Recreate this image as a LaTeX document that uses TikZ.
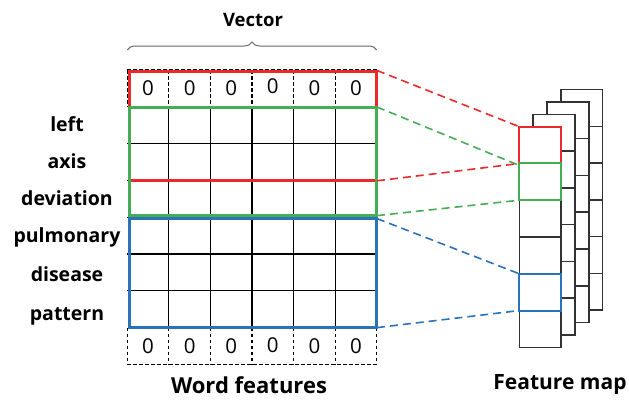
\documentclass[tikz,border=0pt]{standalone}
\usepackage{fontspec}
\setmainfont{Open Sans}
\usetikzlibrary{decorations.pathreplacing}
\definecolor{cred}{RGB}{232,42,42}
\definecolor{cgreen}{RGB}{70,172,86}
\definecolor{cblue}{RGB}{42,114,186}
\definecolor{fmline}{RGB}{50,50,50}
\begin{document}
\begin{tikzpicture}[x=1pt,y=-1pt,
  gridline/.style={black,line width=1.2},
  zeroline/.style={black,line width=1.1,dash pattern=on 3.5 off 2.5},
  hlbox/.style={line width=3},
  fmbox/.style={line width=2},
  conn/.style={line width=1.6,dash pattern=on 8 off 5},
  lab/.style={font=\bfseries\fontsize{19.5}{21}\selectfont,anchor=base},
  title/.style={font=\bfseries\fontsize{22}{24}\selectfont,anchor=center},
  zero/.style={font=\fontsize{20.5}{22}\selectfont,anchor=center,inner sep=0},
  fmcell/.style={draw=fmline,line width=1.5,fill=white}]
\useasboundingbox (0,0) rectangle (629,405);
\def\gx{127.3}\def\cw{41.57}\def\gy{70}\def\rh{36.8}
% grid coordinates
\foreach \i in {0,...,6}{\foreach \j in {0,...,8}{
  \coordinate (g-\i-\j) at (\gx+\i*\cw,\gy+\j*\rh);}}
% solid inner grid
\foreach \j in {2,...,6}{\draw[gridline] (g-0-\j) -- (g-6-\j);}
\foreach \i in {1,...,5}{\draw[gridline] (g-\i-1) -- (g-\i-7);}
% dashed zero rows
\draw[zeroline] (g-0-0) -- (g-6-0);
\draw[zeroline] (g-0-8) -- (g-6-8);
\foreach \i in {0,...,6}{
  \draw[zeroline] (g-\i-0) -- (g-\i-1);
  \draw[zeroline] (g-\i-7) -- (g-\i-8);}
\foreach \i/\dy in {0/0,1/0,2/0,3/-1.8,4/0,5/0}{
  \node[zero] (zt\i) at (\gx+\i*\cw+0.5*\cw,\gy+0.5*\rh+\dy) {0};
  \node[zero] (zb\i) at (\gx+\i*\cw+0.5*\cw,\gy+7.5*\rh+\dy*0.7) {0};}
% highlight boxes
\coordinate (rb-tl) at (129,71.5); \coordinate (rb-br) at (376,180.8);
\coordinate (gb-tl) at (129,107.3); \coordinate (gb-br) at (376,215.6);
\coordinate (bb-tl) at (129,218.6); \coordinate (bb-br) at (376,327.6);
\draw[hlbox,cred] (rb-tl) rectangle (rb-br);
\draw[hlbox,cgreen] (gb-tl) rectangle (gb-br);
\draw[hlbox,cblue] (bb-tl) rectangle (bb-br);
% labels (baselines)
\foreach \t/\b [count=\k] in {left/131.7,axis/168.3,deviation/205,pulmonary/242.7,disease/281.5,pattern/320}{
  \node[lab] (lab\k) at (67,\b) {\t};}
% brace and titles
\coordinate (br-l) at (127.3,50); \coordinate (br-r) at (376.7,50);
\draw[decorate,decoration={brace,amplitude=8},black!60,line width=1] (br-l) -- (br-r);
\node[title,font=\bfseries\fontsize{18.5}{20}\selectfont] (vec) at (253,20) {Vector};
\node[title] (wf) at (249,385) {Word features};
\node[title,font=\bfseries\fontsize{21}{23}\selectfont] (fm) at (560,385) {Feature map};
% feature map layers
\def\fx{519.3}\def\fy{126.7}\def\fw{41.7}\def\fh{36.77}
\foreach \k in {3,2,1,0}{
  \foreach \j in {0,...,5}{
    \draw[fmcell] (\fx+\k*13.9,\fy-\k*12.4+\j*\fh) rectangle ++(\fw,\fh);}}
\foreach \j in {0,...,6}{\coordinate (f-\j) at (\fx,\fy+\j*\fh);}
\draw[fmbox,cred] (f-0) rectangle ++(\fw,\fh);
\draw[fmbox,cgreen] (f-1) rectangle ++(\fw,\fh);
\draw[fmbox,cblue] (f-4) rectangle ++(\fw,\fh);
% connectors
\coordinate (e-r1) at (377,70.5); \coordinate (e-r2) at (377,180.8);
\coordinate (e-g1) at (377,107); \coordinate (e-g2) at (377,215.6);
\coordinate (e-b1) at (377,218.6); \coordinate (e-b2) at (377,327.6);
\draw[conn,cred] (e-r1) -- (f-0);
\draw[conn,cgreen] (e-g1) -- ([yshift=-2]f-1);
\draw[conn,cred] (e-r2) -- (f-1);
\draw[conn,cgreen] (e-g2) -- (f-2);
\draw[conn,cblue] (e-b1) -- (f-4);
\draw[conn,cblue] (e-b2) -- (f-5);
\end{tikzpicture}
\end{document}
